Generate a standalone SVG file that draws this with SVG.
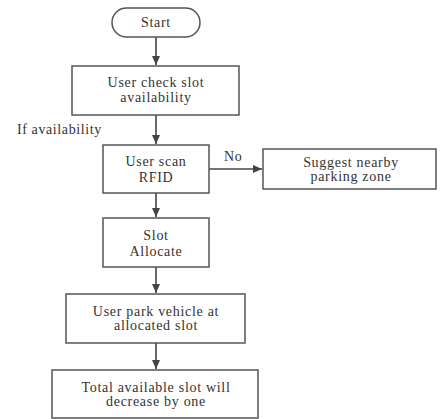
<svg xmlns="http://www.w3.org/2000/svg" width="441" height="419" viewBox="0 0 441 419">
<style>
.box{fill:#fff;stroke:#555;stroke-width:1.5}
.t{font-family:"Liberation Serif","DejaVu Serif",serif;font-size:14px;letter-spacing:0.7px;fill:#333;text-anchor:middle}
.l{font-family:"Liberation Serif","DejaVu Serif",serif;font-size:14px;letter-spacing:0.6px;fill:#333}
.c{stroke:#444;stroke-width:1.6;fill:none}
</style>
<defs>
<marker id="ah" markerWidth="10" markerHeight="8" refX="9" refY="4" orient="auto" markerUnits="userSpaceOnUse">
<path d="M0,0 L9,4 L0,8 Z" fill="#444"/>
</marker>
</defs>
<rect width="441" height="419" fill="#fff"/>
<g id="connectors">
<line class="c" x1="156" y1="37" x2="156" y2="65" marker-end="url(#ah)"/>
<line class="c" x1="156" y1="115" x2="156" y2="144" marker-end="url(#ah)"/>
<line class="c" x1="209" y1="169" x2="262" y2="169" marker-end="url(#ah)"/>
<line class="c" x1="156" y1="193" x2="156" y2="217" marker-end="url(#ah)"/>
<line class="c" x1="156" y1="267" x2="156" y2="293" marker-end="url(#ah)"/>
<line class="c" x1="156" y1="343" x2="156" y2="369" marker-end="url(#ah)"/>
<text class="l" x="17" y="134">If availability</text>
<text class="l" x="224" y="161">No</text>
</g>
<g id="start">
<rect class="box" x="112" y="8" width="88" height="29" rx="14.5" ry="14.5"/>
<text class="t" x="156" y="27">Start</text>
</g>
<g id="check">
<rect class="box" x="72" y="66" width="167" height="49"/>
<text class="t" x="156" y="87">User check slot</text>
<text class="t" x="156" y="102">availability</text>
</g>
<g id="scan">
<rect class="box" x="103" y="145" width="106" height="48"/>
<text class="t" x="156" y="166">User scan</text>
<text class="t" x="156" y="182">RFID</text>
</g>
<g id="suggest">
<rect class="box" x="263" y="149" width="173" height="40"/>
<text class="t" x="351" y="167">Suggest nearby</text>
<text class="t" x="351" y="181">parking zone</text>
</g>
<g id="allocate">
<rect class="box" x="103" y="218" width="106" height="49"/>
<text class="t" x="156" y="240">Slot</text>
<text class="t" x="156" y="256">Allocate</text>
</g>
<g id="park">
<rect class="box" x="66" y="294" width="179" height="49"/>
<text class="t" x="156" y="316">User park vehicle at</text>
<text class="t" x="156" y="330">allocated slot</text>
</g>
<g id="decrease">
<rect class="box" x="52" y="370" width="206" height="48"/>
<text class="t" x="156" y="392">Total available slot will</text>
<text class="t" x="156" y="406">decrease by one</text>
</g>
</svg>
